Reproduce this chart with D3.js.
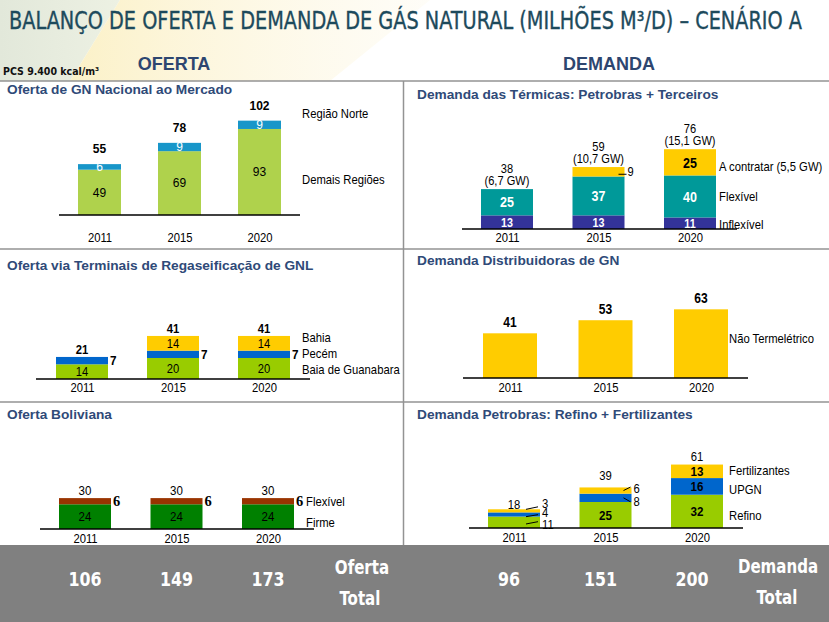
<!DOCTYPE html>
<html><head><meta charset="utf-8">
<script src="https://cdn.jsdelivr.net/npm/d3@7"></script>
<style>html,body{margin:0;padding:0;background:#fff;}svg{display:block;}</style>
</head><body>
<script>
// ---------------- DATA ----------------
const years = ["2011","2015","2020"];
// Oferta de GN Nacional ao Mercado
const nacDemais = [49,69,93];
const nacNorte = [6,9,9];
const nacTotal = [55,78,102];
// Demanda das Térmicas
const termInflex = [13,13,11];
const termFlex = [25,37,40];
const termContratar = [0,9,25];
const termTotal = [38,59,76];
const termGW = ["(6,7 GW)","(10,7 GW)","(15,1 GW)"];
// Terminais de GNL
const gnlGuanabara = [14,20,20];
const gnlPecem = [7,7,7];
const gnlBahia = [0,14,14];
const gnlTotal = [21,41,41];
// Distribuidoras
const distNaoTerm = [41,53,63];
// Boliviana
const bolFirme = [24,24,24];
const bolFlex = [6,6,6];
const bolTotal = [30,30,30];
// Petrobras: Refino + Fertilizantes
const petRefino = [11,25,32];
const petUPGN = [4,8,16];
const petFert = [3,6,13];
const petTotal = [18,39,61];
// Totais
const ofertaTotal = [106,149,173];
const demandaTotal = [96,151,200];

// ---------------- DRAW ----------------
const W = 829, H = 622;
const SANS = "'Liberation Sans', Arial, Helvetica, sans-serif";
const NARROW = "'Liberation Sans Narrow', 'Arial Narrow', 'DejaVu Sans Condensed', sans-serif";
const svg = d3.select("body").append("svg").attr("width", W).attr("height", H)
  .style("font-family", SANS);
svg.append("rect").attr("width", W).attr("height", H).attr("fill", "#fff");

// decorative background swoosh
const defs = svg.append("defs");
const g1 = defs.append("linearGradient").attr("id","yl").attr("x1","0").attr("x2","1").attr("y1","0").attr("y2","0");
g1.append("stop").attr("offset","0").attr("stop-color","#fbf0c4").attr("stop-opacity",0.95);
g1.append("stop").attr("offset","1").attr("stop-color","#fdf8e6").attr("stop-opacity",0.3);
const g2 = defs.append("linearGradient").attr("id","gr").attr("x1","0").attr("x2","1").attr("y1","0").attr("y2","0");
g2.append("stop").attr("offset","0").attr("stop-color","#e2e8da");
g2.append("stop").attr("offset","1").attr("stop-color","#edf1e3");
svg.append("path").attr("d","M0,0H120L70,81H0Z").attr("fill","url(#gr)");
svg.append("path").attr("d","M120,0H430L330,81H70Z").attr("fill","url(#yl)");

// Title
svg.append("text").attr("x", 9).attr("y", 29)
  .attr("font-family", NARROW).attr("font-size", 25).attr("fill", "#1d4a5c")
  .attr("stroke", "#1d4a5c").attr("stroke-width", 0.35)
  .attr("textLength", 793).attr("lengthAdjust", "spacingAndGlyphs")
  .text("BALANÇO DE OFERTA E DEMANDA DE GÁS NATURAL (MILHÕES M³/D) – CENÁRIO A");
svg.append("text").attr("x", 3).attr("y", 75).attr("font-family", NARROW)
  .attr("font-weight","bold").attr("font-size", 10.5).attr("fill","#111").text("PCS 9.400 kcal/m³");
svg.append("text").attr("x", 174).attr("y", 70).attr("text-anchor","middle")
  .attr("font-weight","bold").attr("font-size", 18).attr("fill","#2d4670").text("OFERTA");
svg.append("text").attr("x", 609).attr("y", 70).attr("text-anchor","middle")
  .attr("font-weight","bold").attr("font-size", 18).attr("fill","#2d4670").text("DEMANDA");

// grid lines between panels
const gridC = "#939393";
[81, 249, 402].forEach(yy => svg.append("line").attr("x1",0).attr("x2",W).attr("y1",yy).attr("y2",yy)
  .attr("stroke", gridC).attr("stroke-width", 1.5));
svg.append("line").attr("x1",403.5).attr("x2",403.5).attr("y1",81).attr("y2",545)
  .attr("stroke", gridC).attr("stroke-width", 1.5);

// panel titles
const titleC = "#2f4a78";
[["Oferta de GN Nacional ao Mercado",7,93.5],
 ["Demanda das Térmicas: Petrobras + Terceiros",417,98.5],
 ["Oferta via Terminais de Regaseificação de GNL",7,269.5],
 ["Demanda Distribuidoras de GN",417,265],
 ["Oferta Boliviana",7,419],
 ["Demanda Petrobras: Refino + Fertilizantes",417,419]].forEach(([t,x,y]) =>
  svg.append("text").attr("x",x).attr("y",y).attr("font-weight","bold")
    .attr("font-size",13.7).attr("fill",titleC).text(t));

// generic stacked-bar panel
function panel(cfg) {
  const g = svg.append("g");
  const x = d3.scalePoint().domain(years).range(cfg.centers);
  const y = d3.scaleLinear().domain([0, 100]).range([cfg.axisY, cfg.axisY - 100 * cfg.k]);
  const rows = years.map((yr, i) => {
    const r = { year: yr };
    cfg.series.forEach((s, j) => r["s" + j] = s.values[i]);
    return r;
  });
  const stacked = d3.stack().keys(cfg.series.map((s, j) => "s" + j))(rows);
  stacked.forEach((layer, j) => {
    const s = cfg.series[j];
    g.selectAll(null).data(layer.filter(d => d[1] - d[0] > 0)).join("rect")
      .attr("x", d => x(d.data.year) - cfg.bw / 2)
      .attr("y", d => y(d[1]))
      .attr("width", cfg.bw)
      .attr("height", d => y(d[0]) - y(d[1]))
      .attr("fill", s.color);
    if (s.label) {
      g.selectAll(null).data(layer.filter((d, i) => d[1] - d[0] > 0 && !(s.label.outside && s.label.outside(i))))
        .join("text")
        .attr("x", d => x(d.data.year))
        .attr("y", d => y((d[0] + d[1]) / 2) + s.label.size * 0.36)
        .attr("text-anchor", "middle")
        .attr("font-size", s.label.size)
        .attr("font-weight", s.label.weight || "normal")
        .attr("fill", s.label.fill)
        .attr("data-sq", s.label.sq || 1)
        .text(d => d[1] - d[0]);
    }
  });
  // baseline
  g.append("line").attr("x1", cfg.axisX[0]).attr("x2", cfg.axisX[1])
    .attr("y1", cfg.axisY).attr("y2", cfg.axisY).attr("stroke", "#000").attr("stroke-width", 1.5);
  // year axis
  const ax = g.append("g").attr("transform", `translate(0,${cfg.axisY})`)
    .call(d3.axisBottom(x).tickSize(0));
  ax.select(".domain").remove();
  ax.selectAll("text").attr("dy", null).attr("y", cfg.yearBaseline - cfg.axisY)
    .attr("font-size", 12.5).attr("font-family", SANS).attr("fill", "#000").attr("data-sq", 0.9);
  // legend
  (cfg.legend || []).forEach(([t, yy]) =>
    g.append("text").attr("x", cfg.legendX).attr("y", yy + 12.8 * 0.36)
      .attr("font-size", 12.8).attr("fill", "#000").attr("data-sq", 0.88).text(t));
  const top = i => y(d3.sum(cfg.series, s => s.values[i]));
  return { g, x, y, top, stacked };
}

// ---- Panel 1: Oferta GN Nacional
{
  const p = panel({
    axisY: 215, axisX: [59, 300], centers: [99.5, 259.5], bw: 43, k: 0.925,
    series: [
      { values: nacDemais, color: "#afd24c", label: { fill: "#000", size: 12 } },
      { values: nacNorte, color: "#1896c9", label: { fill: "#fff", size: 12 } }
    ],
    yearBaseline: 241.5,
    legendX: 302, legend: [["Região Norte", 113], ["Demais Regiões", 179]]
  });
  p.g.selectAll(null).data(nacTotal).join("text")
    .attr("x", (d, i) => p.x(years[i])).attr("y", (d, i) => p.top(i) - 11)
    .attr("text-anchor", "middle").attr("font-weight", "bold").attr("font-size", 12).text(d => d);
}

// ---- Panel 2: Térmicas
{
  const p = panel({
    axisY: 229, axisX: [462, 737], centers: [507, 690], bw: 52, k: 1.05,
    series: [
      { values: termInflex, color: "#333399", label: { fill: "#fff", size: 12.5, weight: "bold", sq: 0.86 } },
      { values: termFlex, color: "#009999", label: { fill: "#fff", size: 14.5, weight: "bold", sq: 0.86 } },
      { values: termContratar, color: "#ffcc00", label: { fill: "#000", size: 14.5, weight: "bold", sq: 0.86, outside: i => i === 1 } }
    ],
    yearBaseline: 241.7,
    legendX: 719, legend: [["A contratar (5,5 GW)", 166], ["Flexível", 196], ["Inflexível", 224]]
  });
  p.g.selectAll(null).data(termTotal).join("text")
    .attr("x", (d, i) => p.x(years[i])).attr("y", (d, i) => p.top(i) - 16)
    .attr("text-anchor", "middle").attr("font-size", 12.6).attr("data-sq", 0.88).text(d => d);
  p.g.selectAll(null).data(termGW).join("text")
    .attr("x", (d, i) => p.x(years[i])).attr("y", (d, i) => p.top(i) - 4)
    .attr("text-anchor", "middle").attr("font-size", 12.6).attr("data-sq", 0.88).text(d => d);
  // outside label for 2015 "A contratar"
  const i = 1, d = p.stacked[2][i];
  const right = p.x(years[i]) + 26, mid = p.y((d[0] + d[1]) / 2);
  p.g.append("line").attr("x1", right - 6).attr("x2", right + 2).attr("y1", mid + 2.5).attr("y2", mid + 2.5)
    .attr("stroke", "#000").attr("stroke-width", 1);
  p.g.append("text").attr("x", right + 3).attr("y", mid + 4.5).attr("font-size", 12.6)
    .attr("data-sq", 0.88).text(d[1] - d[0]);
}

// ---- Panel 3: GNL
{
  const p = panel({
    axisY: 379, axisX: [36, 310], centers: [82, 264], bw: 52, k: 1.05,
    series: [
      { values: gnlGuanabara, color: "#99cc00", label: { fill: "#000", size: 12, sq: 0.93 } },
      { values: gnlPecem, color: "#0066cc", label: { fill: "#000", size: 12, outside: () => true } },
      { values: gnlBahia, color: "#ffcc00", label: { fill: "#000", size: 12, sq: 0.93 } }
    ],
    yearBaseline: 391.7,
    legendX: 302, legend: [["Bahia", 337], ["Pecém", 353], ["Baia de Guanabara", 369]]
  });
  p.g.selectAll(null).data(gnlTotal).join("text")
    .attr("x", (d, i) => p.x(years[i])).attr("y", (d, i) => p.top(i) - 3)
    .attr("text-anchor", "middle").attr("font-weight", "bold").attr("font-size", 12.5)
    .attr("data-sq", 0.9).text(d => d);
  p.g.selectAll(null).data(p.stacked[1]).join("text")
    .attr("x", d => p.x(d.data.year) + 26 + 2).attr("y", d => p.y((d[0] + d[1]) / 2) + 4.7)
    .attr("font-weight", "bold").attr("font-size", 13).attr("data-sq", 0.9).text(d => d[1] - d[0]);
}

// ---- Panel 4: Distribuidoras
{
  const p = panel({
    axisY: 378, axisX: [463, 748], centers: [510, 701], bw: 54, k: 1.09,
    series: [{ values: distNaoTerm, color: "#ffcc00" }],
    yearBaseline: 391.7,
    legendX: 729, legend: [["Não Termelétrico", 338]]
  });
  p.g.selectAll(null).data(distNaoTerm).join("text")
    .attr("x", (d, i) => p.x(years[i])).attr("y", (d, i) => p.top(i) - 6)
    .attr("text-anchor", "middle").attr("font-weight", "bold").attr("font-size", 14)
    .attr("data-sq", 0.86).text(d => d);
}

// ---- Panel 5: Boliviana
{
  const p = panel({
    axisY: 529, axisX: [40, 314], centers: [85, 268], bw: 52, k: 1.03,
    series: [
      { values: bolFirme, color: "#008000", label: { fill: "#000", size: 12.5, sq: 0.92 } },
      { values: bolFlex, color: "#993300" }
    ],
    yearBaseline: 543,
    legendX: 306, legend: [["Flexível", 501], ["Firme", 522]]
  });
  p.g.selectAll(null).data(bolTotal).join("text")
    .attr("x", (d, i) => p.x(years[i])).attr("y", (d, i) => p.top(i) - 3)
    .attr("text-anchor", "middle").attr("font-size", 12.5).attr("data-sq", 0.92).text(d => d);
  p.g.selectAll(null).data(p.stacked[1]).join("text")
    .attr("x", d => p.x(d.data.year) + 26 + 2).attr("y", d => p.y((d[0] + d[1]) / 2) + 5)
    .attr("font-family", "'Liberation Serif', 'Times New Roman', serif")
    .attr("font-weight", "bold").attr("font-size", 14.5).text(d => d[1] - d[0]);
}

// ---- Panel 6: Petrobras
{
  const p = panel({
    axisY: 528, axisX: [469, 743], centers: [514, 697], bw: 52, k: 1.04,
    series: [
      { values: petRefino, color: "#99cc00", label: { fill: "#000", size: 13.5, weight: "bold", sq: 0.86, outside: i => i === 0 } },
      { values: petUPGN, color: "#0066cc", label: { fill: "#000", size: 13.5, weight: "bold", sq: 0.86, outside: i => i < 2 } },
      { values: petFert, color: "#ffcc00", label: { fill: "#000", size: 13.5, weight: "bold", sq: 0.86, outside: i => i < 2 } }
    ],
    yearBaseline: 541.7,
    legendX: 729, legend: [["Fertilizantes", 470], ["UPGN", 489], ["Refino", 515]]
  });
  const totalGap = [0.5, 7, 4]; // layout: gap between bar top and total label
  p.g.selectAll(null).data(petTotal).join("text")
    .attr("x", (d, i) => p.x(years[i])).attr("y", (d, i) => p.top(i) - totalGap[i])
    .attr("text-anchor", "middle").attr("font-size", 12.8).attr("data-sq", 0.88).text(d => d);
  // leader-line labels (layout offsets: [line start dy, line end dy, label dy])
  const lead2011 = [[1.7, -0.6, 6.7], [2.2, 0.2, 2.5], [-1.5, -4, -3]];
  const lead2015 = [null, [0, 4, 8], [0, -3.5, 2.5]];
  [[0, lead2011, 14, 2], [1, lead2015, 8, 1]].forEach(([i, lay, inset, endIn]) => {
    const right = p.x(years[i]) + 26;
    lay.forEach((L, j) => {
      if (!L) return;
      const d = p.stacked[j][i], mid = p.y((d[0] + d[1]) / 2);
      p.g.append("line").attr("x1", right - inset).attr("x2", right - endIn)
        .attr("y1", mid + L[0]).attr("y2", mid + L[1]).attr("stroke", "#000").attr("stroke-width", 1);
      p.g.append("text").attr("x", right + 2).attr("y", mid + L[2])
        .attr("font-size", 12.8).attr("data-sq", 0.88).text(d[1] - d[0]);
    });
  });
}

// ---- Bottom totals band
svg.append("rect").attr("x", 0).attr("y", 545).attr("width", W).attr("height", H - 545).attr("fill", "#808080");
const band = svg.append("g").attr("fill", "#fff").attr("font-family", NARROW).attr("font-weight", "bold");
const xo = d3.scalePoint().domain(years).range([85, 268]);
const xd = d3.scalePoint().domain(years).range([509, 692]);
band.selectAll(null).data(ofertaTotal).join("text")
  .attr("x", (d, i) => xo(years[i])).attr("y", 586).attr("text-anchor", "middle").attr("font-size", 20)
  .attr("data-sq", 0.88).text(d => d);
band.selectAll(null).data(demandaTotal).join("text")
  .attr("x", (d, i) => xd(years[i])).attr("y", 586).attr("text-anchor", "middle").attr("font-size", 20)
  .attr("data-sq", 0.88).text(d => d);
[["Oferta", 362, 574], ["Total", 360, 605], ["Demanda", 778, 573], ["Total", 777, 604]].forEach(([t, x, y]) =>
  band.append("text").attr("x", x).attr("y", y).attr("text-anchor", "middle").attr("font-size", 19)
    .attr("data-sq", 0.88).text(t));

// horizontal squeeze of text to match the reference's condensed glyphs
svg.selectAll("text[data-sq]").each(function () {
  const f = +this.getAttribute("data-sq");
  if (f === 1) return;
  const L = this.getComputedTextLength();
  this.setAttribute("textLength", L * f);
  this.setAttribute("lengthAdjust", "spacingAndGlyphs");
});
</script>
</body></html>
